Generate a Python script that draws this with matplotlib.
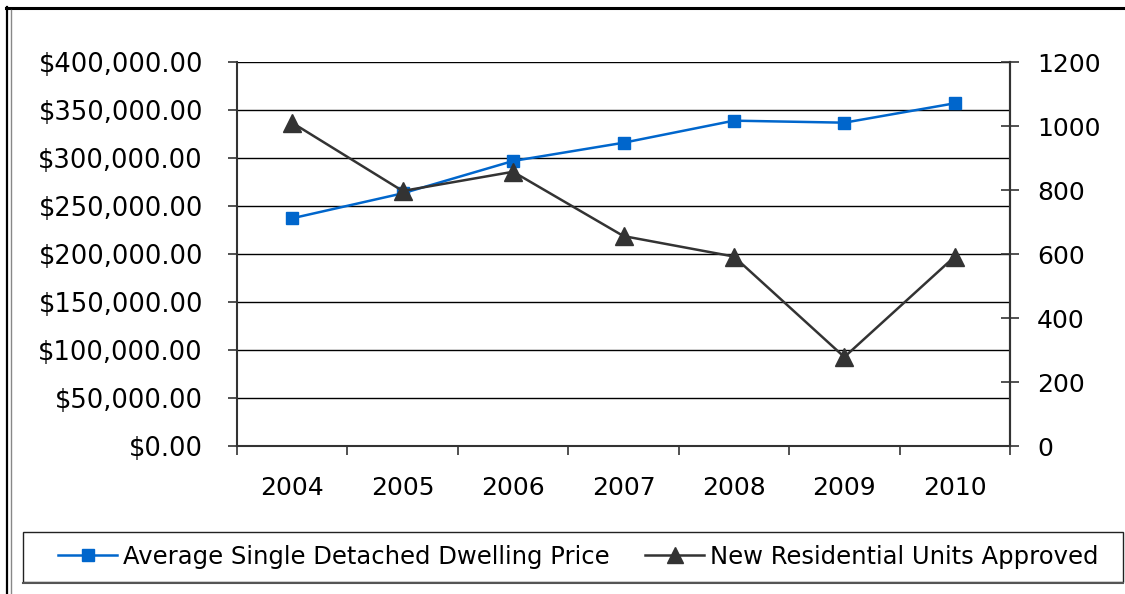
import matplotlib
matplotlib.use("Agg")
import matplotlib.pyplot as plt
from matplotlib.lines import Line2D
from matplotlib.patches import Rectangle
from matplotlib.ticker import FixedLocator, FuncFormatter

plt.rcParams['font.family'] = ['DejaVu Sans']

years = ['2004', '2005', '2006', '2007', '2008', '2009', '2010']
avg_price = [237200, 263200, 296900, 315900, 338900, 336800, 357000]
units_approved = [1010, 797, 857, 656, 592, 278, 592]

price_label = 'Average Single Detached Dwelling Price'
units_label = 'New Residential Units Approved'

BLUE = '#0066CC'
DARK = '#333333'

W, H = 1125, 594
fig = plt.figure(figsize=(W / 100, H / 100), dpi=100)

# plot area in pixel terms
x0, x1, ytop, ybot = 237, 1010, 62, 446
ax = fig.add_axes([x0 / W, 1 - ybot / H, (x1 - x0) / W, (ybot - ytop) / H])

x = list(range(len(years)))
ax.set_xlim(-0.5, len(years) - 0.5)
ax.set_ylim(0, 400000)
ax.set_yticks(range(0, 400001, 50000))
ax.yaxis.set_major_formatter(FuncFormatter(lambda v, p: f"${v:,.2f}"))
ax.grid(axis='y', color='black', linewidth=1.0)
ax.set_axisbelow(True)

ax.set_xticks(x)
ax.set_xticklabels(years)
ax.xaxis.set_minor_locator(FixedLocator([i - 0.5 for i in range(len(years) + 1)]))
ax.tick_params(axis='x', which='major', length=0, pad=21.5, labelsize=18)
ax.tick_params(axis='x', which='minor', length=6.5, width=1.2, color=DARK, direction='out')
ax.tick_params(axis='y', which='major', length=6.5, width=1.2, color=DARK,
               direction='out', pad=18, labelsize=18.5)

ax.spines['top'].set_visible(False)
for side in ('left', 'bottom', 'right'):
    ax.spines[side].set_color(DARK)
    ax.spines[side].set_linewidth(1.5)

ax.plot(x, avg_price, color=BLUE, linewidth=1.8, marker='s', markersize=8.5,
        markerfacecolor=BLUE, markeredgecolor=BLUE, zorder=3)

ax2 = ax.twinx()
ax2.set_ylim(0, 1200)
ax2.set_yticks(range(0, 1201, 200))
ax2.tick_params(axis='y', length=13, width=1.2, color=DARK, direction='inout',
                pad=13, labelsize=18)
ax2.spines['top'].set_visible(False)
ax2.spines['right'].set_color(DARK)
ax2.spines['right'].set_linewidth(1.5)
ax2.spines['left'].set_visible(False)
ax2.spines['bottom'].set_visible(False)
ax2.plot(x, units_approved, color=DARK, linewidth=1.8, marker='^', markersize=13,
         markerfacecolor=DARK, markeredgecolor=DARK, zorder=3)

# outer frame
fig.add_artist(Line2D([6 / W, 1], [1 - 8 / H, 1 - 8 / H], transform=fig.transFigure,
                      color='black', linewidth=2.2))
fig.add_artist(Line2D([7 / W, 7 / W], [0, 1 - 7 / H], transform=fig.transFigure,
                      color='black', linewidth=1.6))
fig.add_artist(Line2D([10.5 / W, 10.5 / W], [0, 1 - 10 / H], transform=fig.transFigure,
                      color='#888888', linewidth=1.0))

# legend box
lx0, lx1, ly0, ly1 = 23, 1123, 532, 582
fig.add_artist(Rectangle((lx0 / W, 1 - ly1 / H), (lx1 - lx0) / W, (ly1 - ly0) / H,
                         transform=fig.transFigure, fill=False,
                         edgecolor='#222222', linewidth=1.0))
fig.add_artist(Line2D([lx0 / W, lx1 / W], [1 - (ly1 + 0.5) / H, 1 - (ly1 + 0.5) / H],
                      transform=fig.transFigure, color='#555555', linewidth=1.5))

handles = [
    Line2D([], [], color=BLUE, linewidth=1.8, marker='s', markersize=8.5),
    Line2D([], [], color=DARK, linewidth=1.8, marker='^', markersize=11),
]
fig.legend(handles, [price_label, units_label], loc='center',
           bbox_to_anchor=(578.5 / W, 1 - 557 / H), ncol=2, frameon=False,
           fontsize=17.5, handlelength=2.43, handletextpad=0.25, columnspacing=1.44,
           borderpad=0, borderaxespad=0)

fig.savefig('out.png', dpi=100)
